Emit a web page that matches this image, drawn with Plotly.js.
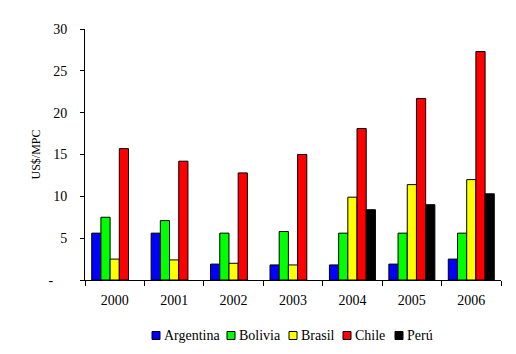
<!DOCTYPE html>
<html>
<head>
<meta charset="utf-8">
<script src="https://cdn.plot.ly/plotly-3.0.1.min.js"></script>
<style>html,body{margin:0;padding:0;background:#fff;}#chart{width:516px;height:354px;}</style>
</head>
<body>
<div id="chart"></div>
<script>
var years = ['2000', '2001', '2002', '2003', '2004', '2005', '2006'];
var seriesNames = ['Argentina', 'Bolivia', 'Brasil', 'Chile', 'Perú'];
var seriesColors = ['#0000FF', '#00FF00', '#FFFF00', '#FF0000', '#000000'];
var argentina = [5.6, 5.6, 1.9, 1.8, 1.8, 1.9, 2.5];
var bolivia = [7.5, 7.1, 5.6, 5.8, 5.6, 5.6, 5.6];
var brasil = [2.5, 2.4, 2.0, 1.8, 9.9, 11.4, 12.0];
var chile = [15.7, 14.2, 12.8, 15.0, 18.1, 21.7, 27.3];
var peru = [null, null, null, null, 8.4, 9.0, 10.3];
var seriesValues = [argentina, bolivia, brasil, chile, peru];
var yTickVals = [0, 5, 10, 15, 20, 25, 30];
var yTickText = ['-\u00a0\u00a0\u00a0\u00a0', '5', '10', '15', '20', '25', '30'];

var FONT = '"Liberation Serif", "Times New Roman", Times, serif';
var L = 85, R = 501, T = 29, B = 280;
function px2x(p) { return (p - L) / (R - L); }
function px2y(p) { return (B - p) / (B - T); }

var traces = seriesNames.map(function (n, i) {
  return {
    type: 'bar', name: n, x: years, y: seriesValues[i],
    marker: { color: seriesColors[i], line: { color: '#000', width: 1 } },
    hoverinfo: 'x+y+name'
  };
});

// manual legend (compact, Excel-like)
var legendTextX = [164, 239, 301, 355, 407];
var legendY = 335.5;
var shapes = [], annotations = [];
seriesNames.forEach(function (n, i) {
  var sx = legendTextX[i] - 12;
  shapes.push({
    type: 'rect', xref: 'paper', yref: 'paper',
    x0: px2x(sx), x1: px2x(sx + 8), y0: px2y(legendY + 4), y1: px2y(legendY - 4),
    fillcolor: seriesColors[i], line: { color: '#000', width: 1 }
  });
  annotations.push({
    xref: 'paper', yref: 'paper', x: px2x(legendTextX[i] - 2), y: px2y(legendY),
    xanchor: 'left', yanchor: 'middle', showarrow: false, text: n,
    font: { family: FONT, size: 14, color: '#000' }
  });
});

var layout = {
  width: 516, height: 354,
  margin: { l: L, r: 516 - R, t: T, b: 354 - B },
  paper_bgcolor: '#fff', plot_bgcolor: '#fff',
  showlegend: false,
  barmode: 'group', bargap: 0.226, bargroupgap: 0,
  font: { family: FONT, size: 14, color: '#000' },
  xaxis: {
    type: 'category', range: [-0.5, 6.5],
    showline: true, linecolor: '#000', linewidth: 1,
    ticks: 'outside', tickson: 'boundaries', ticklen: 5, tickcolor: '#000', tickwidth: 1,
    showgrid: false, zeroline: false,
    tickfont: { family: FONT, size: 14, color: '#000' },
    ticklabelstandoff: 7
  },
  yaxis: {
    range: [0, 30], tickvals: yTickVals, ticktext: yTickText,
    showline: true, linecolor: '#000', linewidth: 1,
    ticks: 'outside', ticklen: 4, tickcolor: '#000', tickwidth: 1,
    showgrid: false, zeroline: false,
    tickfont: { family: FONT, size: 14, color: '#000' },
    ticklabelstandoff: 10,
    title: { text: 'US$/MPC', font: { family: FONT, size: 12, color: '#000' }, standoff: 5 }
  },
  shapes: shapes,
  annotations: annotations
};

Plotly.newPlot('chart', traces, layout, { displayModeBar: false, staticPlot: true });
</script>
</body>
</html>
